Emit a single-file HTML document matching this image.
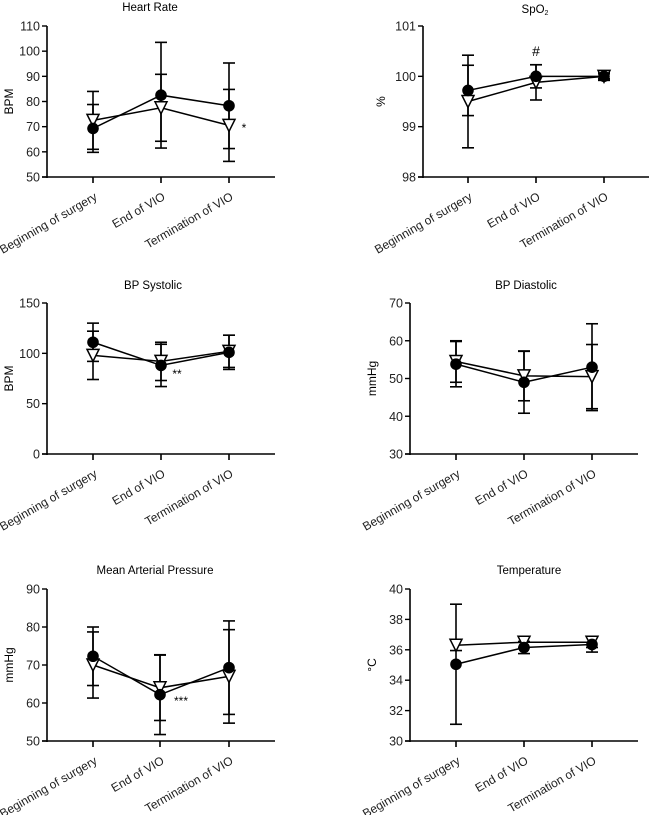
<!DOCTYPE html>
<html><head><meta charset="utf-8"><style>
body{margin:0;background:#fff;}
svg{display:block;font-family:"Liberation Sans",Arial,sans-serif;}
</style></head><body>
<svg id="fig" width="652" height="815" viewBox="0 0 652 815"></svg>
<script>
const categories = ["Beginning of surgery","End of VIO","Termination of VIO"];
const hrCircle=[69.3,82.5,78.3], hrCircleSd=[9.5,21,17], hrTri=[72.5,77.5,70.5], hrTriSd=[11.5,13.3,14.3];
const hrTicks=[50,60,70,80,90,100,110];
const spCircle=[99.72,100,100], spCircleSd=[0.5,0.23,0.05], spTri=[99.5,99.88,100], spTriSd=[0.92,0.35,0.08];
const spTicks=[98,99,100,101];
const sysCircle=[111,88,101], sysCircleSd=[19,21,17], sysTri=[98,92,102], sysTriSd=[24,19,16];
const sysTicks=[0,50,100,150];
const diaCircle=[53.8,49,53], diaCircleSd=[6,8.2,11.5], diaTri=[54.5,50.7,50.5], diaTriSd=[5.5,6.6,8.5];
const diaTicks=[30,40,50,60,70];
const mapCircle=[72.3,62.2,69.3], mapCircleSd=[7.7,10.5,12.3], mapTri=[70,64,67], mapTriSd=[8.7,8.6,12.3];
const mapTicks=[50,60,70,80,90];
const tmpCircle=[35.05,36.15,36.35], tmpCircleSd=[3.95,0.4,0.5], tmpTri=[36.3,36.5,36.5], tmpTriSd=[0.35,0.35,0.35];
const tmpTicks=[30,32,34,36,38,40];

const NS="http://www.w3.org/2000/svg";
const fig=document.getElementById('fig');
function mk(tag,attrs,parent,name){const e=document.createElementNS(NS,tag);for(const k in attrs)e.setAttribute(k,attrs[k]);


parent.appendChild(e);return e;}

function panel(o){
  const g=mk('g',{},fig,o.id+'-panel');
  const y=v=>o.bottom-(v-o.min)/(o.max-o.min)*(o.bottom-o.top);
  const xs=o.cats;
  const t=mk('text',{x:o.titleX,y:o.titleY,'text-anchor':'middle','font-size':11.5},g,'chart-title');
  if(o.sub){t.textContent=o.title;const ts=mk('tspan',{'font-size':7,dy:2},t,'subscript');ts.textContent=o.sub;}else t.textContent=o.title;
  mk('line',{x1:o.ax,y1:o.top,x2:o.ax,y2:o.bottom+1,stroke:'#000','stroke-width':1.6},g,'y-axis');
  mk('line',{x1:o.ax-5,y1:o.bottom,x2:o.end,y2:o.bottom,stroke:'#000','stroke-width':1.6},g,'x-axis');
  o.ticks.forEach(v=>{
    mk('line',{x1:o.ax-5,y1:y(v),x2:o.ax,y2:y(v),stroke:'#000','stroke-width':1.4},g,'y-tick');
    const tl=mk('text',{x:o.ax-7,y:y(v)+4.5,'text-anchor':'end','font-size':12.5,fill:'#222'},g,'y-tick-label');tl.textContent=v;
  });
  const yl=mk('text',{transform:`translate(${o.ylx},${(o.top+o.bottom)/2}) rotate(-90)`,'text-anchor':'middle','font-size':12},g,'y-axis-title');yl.textContent=o.ylabel;
  xs.forEach((cx,i)=>{
    mk('line',{x1:cx,y1:o.bottom,x2:cx,y2:o.bottom+6,stroke:'#000','stroke-width':1.6},g,'x-tick');
    const cl=mk('text',{transform:`translate(${cx+5},${o.bottom+22}) rotate(-30)`,'text-anchor':'end','font-size':12,fill:'#222'},g,'x-tick-label');cl.textContent=categories[i];
  });
  function series(vals,sds,kind){
    vals.forEach((v,i)=>{
      const cx=xs[i];
      mk('line',{x1:cx,y1:y(v+sds[i]),x2:cx,y2:y(v-sds[i]),stroke:'#000','stroke-width':1.6},g,kind+'-error-bar');
      [v+sds[i],v-sds[i]].forEach(e=>mk('line',{x1:cx-6,y1:y(e),x2:cx+6,y2:y(e),stroke:'#000','stroke-width':1.6},g,kind+'-error-cap'));
    });
    mk('polyline',{points:vals.map((v,i)=>xs[i]+','+y(v)).join(' '),fill:'none',stroke:'#000','stroke-width':1.5},g,kind+'-line');
  }
  series(o.tri,o.triSd,'triangle');
  series(o.circ,o.circSd,'circle');
  o.tri.forEach((v,i)=>{const cx=xs[i],cy=y(v);
    mk('polygon',{points:`${cx-6},${cy-6} ${cx+6},${cy-6} ${cx},${cy+6}`,fill:'#fff',stroke:'#000','stroke-width':1.5},g,'triangle-marker');});
  o.circ.forEach((v,i)=>mk('circle',{cx:xs[i],cy:y(v),r:5.8,fill:'#000'},g,'circle-marker'));
  (o.notes||[]).forEach(n=>{const tt=mk('text',{x:n[0],y:n[1],'font-size':n[3]||12,'text-anchor':'middle'},g,'significance-mark');tt.textContent=n[2];});
}
const L=[93,161,229], R2=[468,536,604], R=[456,524,592];
panel({id:'heart-rate',title:'Heart Rate',titleX:150,titleY:11,ax:47,top:26,bottom:177,end:275,cats:L,min:50,max:110,ticks:hrTicks,ylabel:'BPM',ylx:13,circ:hrCircle,circSd:hrCircleSd,tri:hrTri,triSd:hrTriSd,notes:[[244,132,'*']]});
panel({id:'spo2',title:'SpO',sub:'2',titleX:535,titleY:13,ax:423,top:26,bottom:177,end:649,cats:R2,min:98,max:101,ticks:spTicks,ylabel:'%',ylx:385,circ:spCircle,circSd:spCircleSd,tri:spTri,triSd:spTriSd,notes:[[536,56,'#',14]]});
panel({id:'bp-systolic',title:'BP Systolic',titleX:153,titleY:289,ax:47,top:303,bottom:454,end:275,cats:L,min:0,max:150,ticks:sysTicks,ylabel:'BPM',ylx:13,circ:sysCircle,circSd:sysCircleSd,tri:sysTri,triSd:sysTriSd,notes:[[177,378,'**']]});
panel({id:'bp-diastolic',title:'BP Diastolic',titleX:526,titleY:289,ax:410,top:303,bottom:454,end:638,cats:R,min:30,max:70,ticks:diaTicks,ylabel:'mmHg',ylx:376,circ:diaCircle,circSd:diaCircleSd,tri:diaTri,triSd:diaTriSd});
panel({id:'mean-arterial-pressure',title:'Mean Arterial Pressure',titleX:155,titleY:574,ax:47,top:589,bottom:741,end:275,cats:[93,160,229],min:50,max:90,ticks:mapTicks,ylabel:'mmHg',ylx:13,circ:mapCircle,circSd:mapCircleSd,tri:mapTri,triSd:mapTriSd,notes:[[181,705,'***']]});
panel({id:'temperature',title:'Temperature',titleX:529,titleY:574,ax:410,top:589,bottom:741,end:638,cats:R,min:30,max:40,ticks:tmpTicks,ylabel:'°C',ylx:376,circ:tmpCircle,circSd:tmpCircleSd,tri:tmpTri,triSd:tmpTriSd});
</script>
</body></html>
